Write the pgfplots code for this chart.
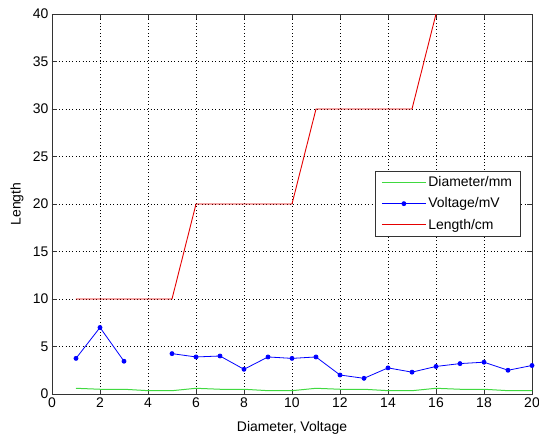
\documentclass[border=0pt]{standalone}
\usepackage{fontspec}
\setmainfont{Liberation Sans}
\usepackage{pgfplots}
\pgfplotsset{compat=1.18}

\begin{document}
\begin{tikzpicture}
\begin{axis}[
  scale only axis,
  width=480bp, height=380bp,
  xmin=0, xmax=20, ymin=0, ymax=40,
  xtick={0,2,...,20}, ytick={0,5,...,40},
  tick align=inside, major tick length=5bp,
  grid=major,
  grid style={black, line width=0.5bp, dash pattern=on 0.8bp off 2.6bp},
  axis line style={black!80, line width=0.7bp},
  tick style={black!80, line width=0.6bp},
  font=\fontsize{14}{16}\selectfont,
  /pgf/number format/assume math mode=true,
  xlabel={Diameter, Voltage},
  ylabel={Length},
  xlabel style={at={(axis description cs:0.5,-0.09)}, anchor=center},
  ylabel style={at={(axis description cs:-0.073,0.5)}, anchor=center},
  unbounded coords=jump,
  legend style={at={(axis description cs:0.673,0.587)}, anchor=north west,
    draw=black!80, line width=0.7bp, inner xsep=6bp, inner ysep=3.5bp,
    row sep=5.5bp, font=\fontsize{14}{16}\selectfont, cells={anchor=west}},
  legend image code/.code={\draw[#1, mark repeat=2, mark phase=2]
    plot coordinates {(0bp,0bp) (22bp,0bp) (44bp,0bp)};},
]
\addplot[color={rgb,1:red,0.25;green,0.85;blue,0.25}, line width=1bp] coordinates {
  (1,0.6) (2,0.5) (3,0.5) (4,0.35) (5,0.35)
  (6,0.6) (7,0.5) (8,0.5) (9,0.35) (10,0.35)
  (11,0.6) (12,0.5) (13,0.5) (14,0.35) (15,0.35)
  (16,0.6) (17,0.5) (18,0.5) (19,0.35) (20,0.35)
};
\addlegendentry{Diameter/mm}
\addplot[color=blue, line width=0.8bp, mark=*, mark size=2bp] coordinates {
  (1,3.75) (2,7.0) (3,3.45) (4,nan) (5,4.25) (6,3.9) (7,4.0) (8,2.6)
  (9,3.9) (10,3.75) (11,3.9) (12,2.0) (13,1.65) (14,2.75) (15,2.3)
  (16,2.9) (17,3.2) (18,3.35) (19,2.5) (20,3.0)
};
\addlegendentry{Voltage/mV}
\addplot[color=red!90!black, line width=0.9bp] coordinates {
  (1,10) (5,10) (6,20) (10,20) (11,30) (15,30) (16,40)
};
\addlegendentry{Length/cm}
\end{axis}
\pgfresetboundingbox
\path (current axis.south west) ++(-52bp,-40bp) rectangle ([xshift=7bp,yshift=14bp]current axis.north east);
\end{tikzpicture}
\end{document}
